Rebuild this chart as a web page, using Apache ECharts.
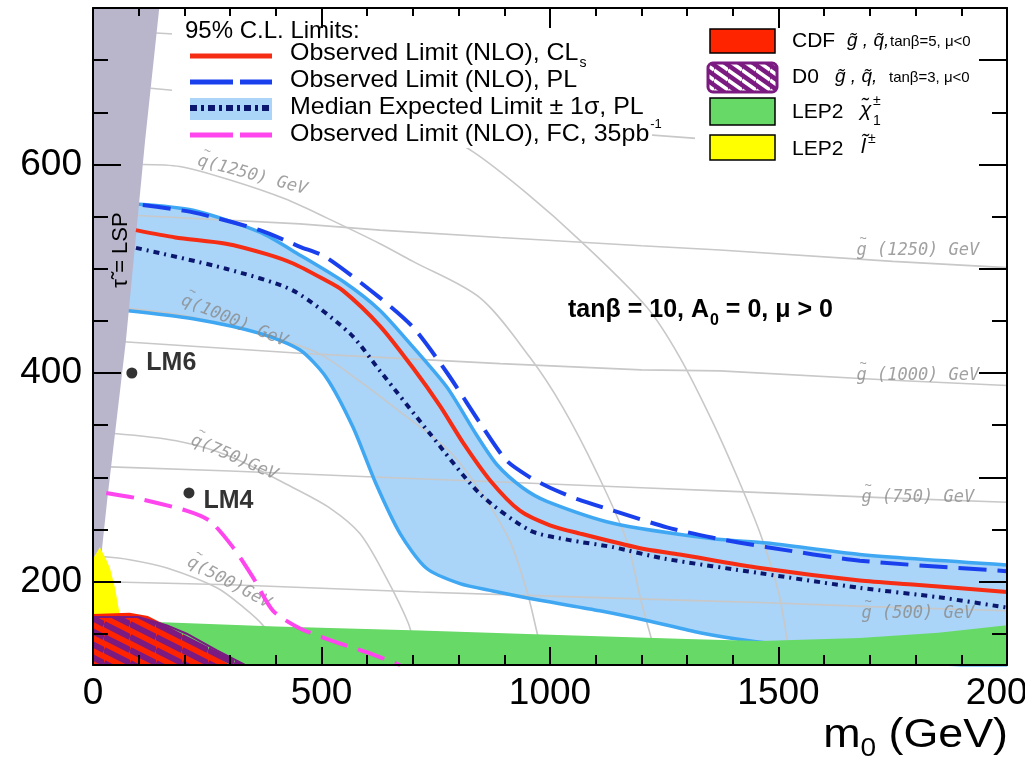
<!DOCTYPE html>
<html><head><meta charset="utf-8">
<script src="https://cdn.jsdelivr.net/npm/echarts@6/dist/echarts.min.js"></script>
<style>html,body{margin:0;padding:0;background:#fff}#c{width:1025px;height:759px}</style>
</head><body><div id="c"></div>
<script>
// ---------------- data (m0 [GeV], m1/2 [GeV]) ----------------
const xRange = [0, 2000];
const yRange = [120, 750];
const xTickStep = 500;
const yLabelTicks = [200, 400, 600];
const yMinorTicks = [150, 200, 250, 300, 350, 400, 450, 500, 550, 600, 650, 700, 750];
const yRightMajorTicks = [200, 300, 400, 500, 600, 700];

const observedCLs = [[94,537],[180,530],[291,524],[380,514],[438,505],[500,491],[547,479],[628,445],[700,405],[760,368],[810,333],[869,297],[934,268],[1000,254],[1066,246],[1197,232],[1284,226],[1460,213],[1678,201],[1800,197],[2000,190]];
const observedPL = [[109,561],[219,554],[365,537],[453,521],[510,511],[628,472],[700,444],[775,400],[847,352],[905,316],[956,300],[1000,290],[1060,279],[1138,268],[1256,252],[1357,242],[1475,233],[1678,220],[2000,210]];
const expectedMedian = [[94,520],[291,500],[438,479],[562,438],[628,402],[737,342],[847,284],[956,249],[1040,240],[1138,233],[1250,222],[1460,208],[1678,194],[1850,185],[2000,175]];
const expectedUpper = [[95,562],[219,556],[365,535],[453,513],[550,487],[628,460],[700,425],[775,386],[840,340],[884,312],[940,290],[993,277],[1138,256],[1357,241],[1475,237],[1678,226],[2000,216]];
const expectedLower = [[72,460],[219,452],[365,438],[453,422],[510,396],[569,348],[619,294],[672,246],[729,213],[803,198],[875,191],[978,182],[1109,172],[1219,162],[1328,151],[1440,143],[1600,135],[1750,127],[1900,120],[2000,120]];
const observedFC = [[29,285],[95,280],[204,268],[256,258],[306,233],[350,204],[394,172],[453,155],[525,143],[600,132],[672,120]];

const lspRegion = [[0,150],[31,278],[72,431],[114,623],[145,750],[0,750]];
const lep2Slepton = [[0,165],[0,222],[15,233],[28,222],[37,213],[48,194],[57,172],[59,165]];
const lep2Chargino = [[0,120],[0,163],[153,161],[400,157],[716,153],[1000,149],[1300,145],[1460,143],[1678,146],[1850,151],[2000,158],[2000,120]];
const cdfRegion = [[0,120],[0,169],[80,170],[120,167],[160,158],[220,143],[260,131],[300,120]];
const d0Region = [[0,120],[0,166],[100,166],[162,158],[205,150],[271,134],[333,120]];

const gluinoContours = {
  'g500':  [[0,200],[300,197],[716,190],[1000,186],[1300,182],[1460,180],[1700,176],[2000,172]],
  'g750':  [[38,310],[300,306],[628,300],[919,295],[1200,290],[1372,287],[1750,280],[2000,276]],
  'g1000': [[67,430],[453,419],[628,415],[891,409],[1200,403],[1372,402],[1750,393],[2000,388]],
  'g1250': [[96,551],[453,543],[628,537],[891,530],[1200,522],[1372,518],[1750,507],[2000,501]],
  'g1500': [[126,673],[400,662],[891,639],[1320,625]],
  'g1750': [[138,726],[700,712]]
};
const squarkContours = {
  'q500':  [[18,224],[80,221],[162,213],[271,194],[330,175],[372,158],[395,140],[405,120]],
  'q750':  [[46,342],[182,335],[300,320],[438,290],[520,270],[584,246],[640,205],[690,160],[705,135],[712,120]],
  'q1000': [[75,462],[200,455],[330,442],[488,420],[584,392],[680,360],[780,325],[847,287],[912,239],[950,190],[975,145],[990,120]],
  'q1250': [[108,600],[190,598],[300,585],[420,567],[510,549],[628,524],[700,507],[847,472],[956,415],[1028,367],[1103,304],[1168,239],[1200,180],[1225,140],[1235,120]],
  'q1500': [[600,665],[700,645],[832,612],[950,572],[1066,527],[1212,463],[1284,415],[1357,352],[1410,300],[1460,246],[1500,190],[1518,146],[1525,120]]
};
const contourLabelText = ['q(1250) GeV','q(1000) GeV','q(750)GeV','q(500)GeV','g (1250) GeV','g (1000) GeV','g (750) GeV','g (500) GeV'];
const contourLabelPos = [[350,592],[311,452],[311,321],[300,201],[1805,520],[1805,400],[1805,283],[1805,172]];

const benchmarkNames = ['LM6','LM4'];
const benchmarkPoints = [[85,400],[210,285]];

// ---------------- styles ----------------
const contourLabelRotate = [-15,-22,-23,-28,0,0,0,0];
const C = {
  red:'#f52d14', blue:'#1a40ee', navy:'#0b176e', band:'#aad4f8', bandEdge:'#40a8f2',
  magenta:'#ff46ee', lsp:'#b9b6cc', green:'#66d966', yellow:'#ffff00', cdf:'#ff2400',
  d0:'#7b1a80', theory:'#c8c8c8', label:'#8a8a8a'
};
const FONT = '"Liberation Sans", Arial, sans-serif';
const MONO = '"DejaVu Sans Mono", "Liberation Mono", monospace';

function stripes(fg, bg, w, h, lw) {
  const c = document.createElement('canvas'); c.width = w; c.height = h;
  const g = c.getContext('2d');
  if (bg) { g.fillStyle = bg; g.fillRect(0, 0, w, h); }
  g.strokeStyle = fg; g.lineWidth = lw;
  for (let k = -1; k <= 1; k++) { g.beginPath(); g.moveTo(0, k*h); g.lineTo(w, k*h + h); g.stroke(); }
  return c;
}
const d0Pattern = { image: stripes(C.d0, null, 26, 13, 6), repeat: 'repeat' };
const d0LegendPattern = { image: stripes('#ffffff', C.d0, 14, 10, 3.5), repeat: 'repeat' };

const mctx = document.createElement('canvas').getContext('2d');
function tw(t, font) { mctx.font = font; return mctx.measureText(t).width; }

function polySeries(pts, style, z) {
  return { type:'custom', coordinateSystem:'cartesian2d', xAxisIndex:0, yAxisIndex:0, z, silent:true, clip:true,
    data:[pts[0]],
    renderItem: function(params, api) {
      return { type:'polygon', shape:{ points: pts.map(p => api.coord(p)) }, style: style };
    } };
}
function lineSeries(data, color, width, type, z, smooth) {
  return { type:'line', data, symbol:'none', showSymbol:false, silent:true, z, smooth: smooth === undefined ? 0.25 : smooth,
    lineStyle:{ color, width, type: type || 'solid', cap:'butt' } };
}

const series = [];
series.push(polySeries(expectedUpper.concat(expectedLower.slice().reverse()), { fill: C.band }, 1));
Object.keys(gluinoContours).forEach(k => series.push(lineSeries(gluinoContours[k], C.theory, 1.6, 'solid', 2, 0)));
Object.keys(squarkContours).forEach(k => series.push(lineSeries(squarkContours[k], C.theory, 1.6, 'solid', 2, 0.3)));
series.push({ type:'scatter', z:3, silent:true, symbolSize:0,
  data: contourLabelPos.map((p,i) => ({ value:p, label:{ rotate: contourLabelRotate[i],
    formatter: '{t|~}\n{b|' + contourLabelText[i] + '}' } })),
  label:{ show:true, position:'inside',
    rich:{
      t:{ align:'left', fontFamily:MONO, fontSize:12, lineHeight:5, color:C.label, padding:[0,0,0,3] },
      b:{ align:'left', fontFamily:MONO, fontStyle:'italic', fontSize:17, lineHeight:18, color:C.label }
    } } });
series.push(lineSeries(expectedUpper, C.bandEdge, 3.5, 'solid', 3));
series.push(lineSeries(expectedLower, C.bandEdge, 3.5, 'solid', 3));
series.push(polySeries(lspRegion, { fill: C.lsp }, 4));
series.push(polySeries(lep2Chargino, { fill: C.green }, 5));
series.push(polySeries(lep2Slepton, { fill: C.yellow }, 6));
series.push(polySeries(cdfRegion, { fill: C.cdf }, 7));
series.push(polySeries(d0Region, { fill: d0Pattern, stroke: C.d0, lineWidth: 2 }, 8));
series.push(lineSeries(expectedMedian, C.navy, 4, [6,5,2,5], 9));
series.push(lineSeries(observedCLs, C.red, 4, 'solid', 10));
series.push(lineSeries(observedPL, C.blue, 4, [28,11], 11));
series.push(lineSeries(observedFC, C.magenta, 4, [28,11], 12));
series.push({ type:'scatter', z:13, silent:true, symbolSize:11, itemStyle:{ color:'#000' },
  data: benchmarkPoints.map((p,i) => ({ value:p, name:benchmarkNames[i],
    label:{ offset: i === 0 ? [4,-10] : [4,8] } })),
  label:{ show:true, position:'right', formatter: p => p.name, fontFamily:FONT, fontWeight:'bold', fontSize:25, color:'#000' } });

// ---------------- legends & annotations (graphic) ----------------
const G = [];
function txt(x, y, t, font, extra) {
  G.push(Object.assign({ type:'text', x, y, z:60, silent:true,
    style:{ text:t, font, fill:'#000', align:'left', verticalAlign:'middle' } }, extra || {}));
}
function ln(x1, y1, x2, y2, stroke, lw, dash) {
  G.push({ type:'line', z:55, silent:true, shape:{ x1, y1, x2, y2 }, style:{ stroke, lineWidth: lw, lineDash: dash || null } });
}
// left legend
G.push({ type:'rect', z:40, silent:true, shape:{ x:172, y:20, width:480, height:128 }, style:{ fill:'#fff' } });
const LF = '24px ' + FONT;
txt(185, 31, '95% C.L. Limits:', LF);
ln(190, 56, 272, 56, C.red, 5);
ln(190, 82, 272, 82, C.blue, 5, [43,7]);
G.push({ type:'rect', z:50, silent:true, shape:{ x:190, y:98, width:82, height:22 }, style:{ fill: C.band } });
ln(190, 108, 272, 108, C.navy, 6, [7,4,3,4]);
ln(190, 135, 272, 135, C.magenta, 5, [43,7]);
const r1 = 'Observed Limit (NLO), CL';
txt(290, 53, r1, LF, { scaleX:1.04 }); txt(290 + tw(r1, LF)*1.04 + 1, 63, 's', '14px ' + FONT);
txt(290, 80, 'Observed Limit (NLO), PL', LF, { scaleX:1.04 });
txt(290, 107, 'Median Expected Limit \u00b1 1\u03c3, PL', LF, { scaleX:1.04 });
const r4 = 'Observed Limit (NLO), FC, 35pb';
txt(290, 134, r4, LF, { scaleX:1.04 }); txt(290 + tw(r4, LF)*1.04 + 1, 124, '-1', '13px ' + FONT);

// right legend
G.push({ type:'rect', z:40, silent:true, shape:{ x:695, y:20, width:285, height:150 }, style:{ fill:'#fff' } });
G.push({ type:'rect', z:50, silent:true, shape:{ x:710, y:29, width:65, height:24 }, style:{ fill:C.cdf, stroke:'#000', lineWidth:1.5 } });
G.push({ type:'rect', z:50, silent:true, shape:{ x:708, y:63, width:69, height:29, r:5 }, style:{ fill:d0LegendPattern, stroke:C.d0, lineWidth:3 } });
G.push({ type:'rect', z:50, silent:true, shape:{ x:710, y:98, width:65, height:27 }, style:{ fill:C.green, stroke:'#000', lineWidth:1.5 } });
G.push({ type:'rect', z:50, silent:true, shape:{ x:710, y:135, width:65, height:25 }, style:{ fill:C.yellow, stroke:'#000', lineWidth:1.5 } });
const RF = '21px ' + FONT, IF = 'italic 19px ' + FONT, SF = '15px ' + FONT;
txt(792, 41, 'CDF', RF); txt(847, 41, 'g\u0303 , q\u0303,', IF); txt(890, 42, 'tan\u03b2=5, \u03bc<0', SF);
txt(792, 77, 'D0', RF); txt(835, 77, 'g\u0303 , q\u0303,', IF); txt(889, 78, 'tan\u03b2=3, \u03bc<0', SF);
txt(792, 112, 'LEP2', RF); txt(860, 110, '\u03c7\u0303', 'italic 21px ' + FONT);
txt(873, 101, '\u00b1', '14px ' + FONT); txt(873, 121, '1', '14px ' + FONT);
txt(792, 149, 'LEP2', RF); txt(861, 147, 'l\u0303', 'italic 21px ' + FONT); txt(868, 139, '\u00b1', '14px ' + FONT);

// plot annotation
const BF = 'bold 25px ' + FONT;
const a1 = 'tan\u03b2 = 10, A', a2 = ' = 0, \u03bc > 0';
txt(568, 310, a1, BF); txt(568 + tw(a1, BF) + 1, 321, '0', 'bold 16px ' + FONT);
txt(568 + tw(a1, BF) + 1 + tw('0', 'bold 16px ' + FONT), 310, a2, BF);
G.push({ type:'text', x:121, y:250, rotation: Math.PI/2, z:60, silent:true,
  style:{ text:'\u03c4\u0303 = LSP', font:'22px ' + FONT, fill:'#000', align:'center', verticalAlign:'middle' } });
// x axis title
const XS_ = 1.12;
const XF = '40px ' + FONT, XS = '25px ' + FONT;
const xt1 = 'm', xt2 = '0', xt3 = ' (GeV)';
const xStart = 1008 - (tw(xt1, XF) + tw(xt2, XS) + tw(xt3, XF)) * XS_;
txt(xStart, 736, xt1, XF, { scaleX:XS_ });
txt(xStart + tw(xt1, XF)*XS_, 749, xt2, XS, { scaleX:XS_ });
txt(xStart + (tw(xt1, XF) + tw(xt2, XS))*XS_, 736, xt3, XF, { scaleX:XS_ });

// ---------------- axes ----------------
const axisLine = { show:true, lineStyle:{ color:'#000', width:2 } };
const plain = v => String(v);
const option = {
  animation:false,
  backgroundColor:'#fff',
  grid:{ left:93, right:18, top:8, bottom:94, containLabel:false, outerBoundsMode:'none' },
  xAxis:[
    { type:'value', position:'bottom', min:xRange[0], max:xRange[1], interval:xTickStep, z:50,
      axisLine, splitLine:{show:false},
      axisTick:{ show:true, inside:true, length:18, lineStyle:{ color:'#000', width:2 } },
      minorTick:{ show:true, splitNumber:5, length:10, lineStyle:{ color:'#000', width:2 } },
      axisLabel:{ show:true, margin:10, color:'#000', fontSize:37, fontFamily:FONT, formatter:plain, hideOverlap:false } },
    { type:'value', position:'top', min:xRange[0], max:xRange[1], interval:xTickStep, z:50,
      axisLine, splitLine:{show:false},
      axisTick:{ show:true, inside:true, length:20, lineStyle:{ color:'#000', width:2 } },
      minorTick:{ show:true, splitNumber:5, length:8, lineStyle:{ color:'#000', width:2 } },
      axisLabel:{ show:false } }
  ],
  yAxis:[
    { type:'value', position:'left', min:yRange[0], max:yRange[1], z:50, axisLine, splitLine:{show:false},
      axisTick:{ show:true, inside:true, length:28, customValues:yLabelTicks, lineStyle:{ color:'#000', width:2 } },
      axisLabel:{ show:true, customValues:yLabelTicks, margin:11, color:'#000', fontSize:37, fontFamily:FONT, formatter:plain } },
    { type:'value', position:'left', offset:0, min:yRange[0], max:yRange[1], z:50, axisLine:{show:false}, splitLine:{show:false},
      axisTick:{ show:true, inside:true, length:15, customValues:yMinorTicks, lineStyle:{ color:'#000', width:2 } },
      axisLabel:{ show:false } },
    { type:'value', position:'right', offset:0, min:yRange[0], max:yRange[1], z:50, axisLine, splitLine:{show:false},
      axisTick:{ show:true, inside:true, length:28, customValues:yRightMajorTicks, lineStyle:{ color:'#000', width:2 } },
      axisLabel:{ show:false } },
    { type:'value', position:'right', offset:0, min:yRange[0], max:yRange[1], z:50, axisLine:{show:false}, splitLine:{show:false},
      axisTick:{ show:true, inside:true, length:15, customValues:yMinorTicks, lineStyle:{ color:'#000', width:2 } },
      axisLabel:{ show:false } }
  ],
  series: series,
  graphic: G
};
const chart = echarts.init(document.getElementById('c'), null, { renderer:'canvas' });
chart.setOption(option);
</script>
</body></html>
